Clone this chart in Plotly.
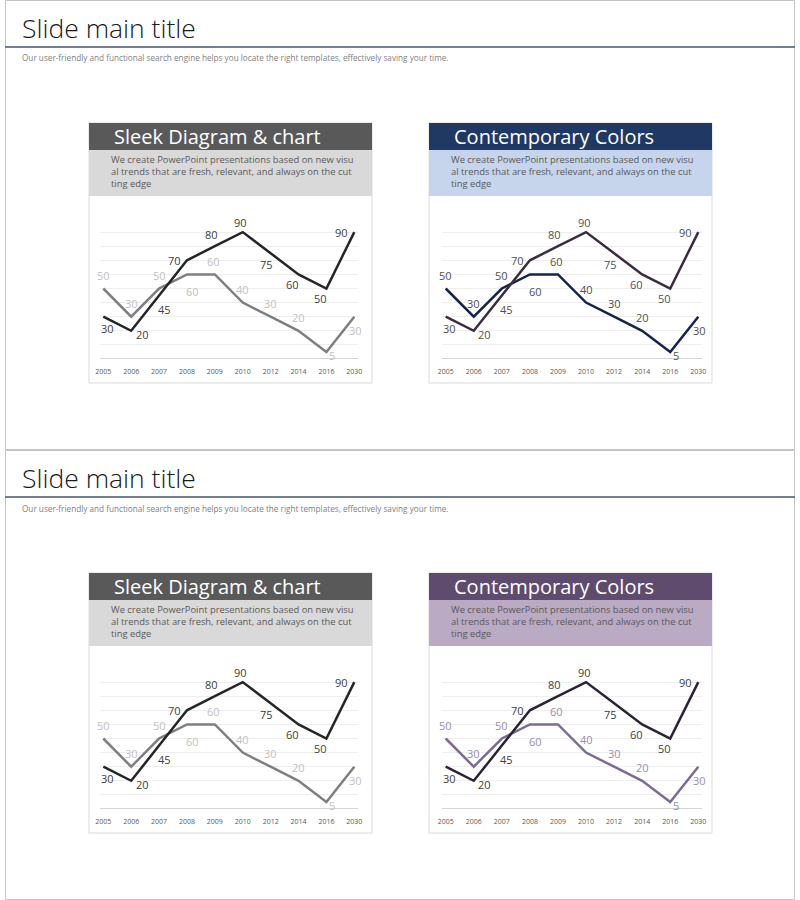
import plotly.graph_objects as go

# ---------------- data ----------------
years = ["2005", "2006", "2007", "2008", "2009", "2010", "2012", "2014", "2016", "2030"]
series_a = [30, 20, 45, 70, 80, 90, 75, 60, 50, 90]
series_b = [50, 30, 50, 60, 60, 40, 30, 20, 5, 30]
slide_title = "Slide main title"
slide_sub = ("Our user-friendly and functional search engine helps you locate the right "
             "templates, effectively saving your time.")
card_titles = ["Sleek Diagram & chart", "Contemporary Colors"]
card_desc = ("We create PowerPoint presentations based on new visu<br>"
             "al trends that are fresh, relevant, and always on the cut<br>"
             "ting edge")

# ---------------- styles ----------------
# label offsets in screen px (dx right, dy down)
off_a = [(4, 12), (11, 4), (5, 14), (-12, 0), (-3, -12), (-2, -10), (-4, 11), (-6, 10), (-6, 10), (-13, 0)]
off_b = [(0, -13), (0, -13), (0, -13), (6, 17), (-1, -13), (0, -13), (0, -13), (0, -13), (6, 4), (1, 14)]

W, H = 800, 900
XOFF, XS = 5.0, 0.9875   # compensation for the horizontal mapping of the photographer
def PX(x): return ((x - XOFF) / XS) / W
def PY(y): return 1 - y / H

cards = [
    dict(x0=89, y0=123, p0=103.3, p9=354.3, header="#595959", band="#D9D9D9", title=card_titles[0],
         ca="#262626", cb="#7F7F7F", la="#404040", lb="#BFBFBF"),
    dict(x0=429, y0=123, p0=445.7, p9=698.3, header="#1F3864", band="#C6D5EC", title=card_titles[1],
         ca="#3B2D3F", cb="#13254A", la="#505050", lb="#505050"),
    dict(x0=89, y0=573, p0=103.3, p9=354.3, header="#595959", band="#D9D9D9", title=card_titles[0],
         ca="#262626", cb="#7F7F7F", la="#404040", lb="#BFBFBF"),
    dict(x0=429, y0=573, p0=445.7, p9=698.3, header="#5E4B6E", band="#BAAAC4", title=card_titles[1],
         ca="#2B2234", cb="#7E6B91", la="#404040", lb="#9C8DAA"),
]

FONT = "Open Sans"
idx = list(range(len(years)))
fig = go.Figure()
shapes = []
annotations = []
layout = {}

# slides
for s in range(2):
    oy = 450 * s
    shapes.append(dict(type="rect", xref="paper", yref="paper",
                       x0=0.5 / W, x1=1 - 0.5 / W, y0=PY(oy + 0.5), y1=PY(oy + 449.5),
                       line=dict(color="#C4C4C4", width=1), fillcolor="white", layer="below"))
    shapes.append(dict(type="line", xref="paper", yref="paper",
                       x0=0, x1=1, y0=PY(oy + 47), y1=PY(oy + 47),
                       line=dict(color="#44546A", width=1.5)))
    annotations.append(dict(xref="paper", yref="paper", x=PX(20), y=PY(oy + 28), text=slide_title,
                            showarrow=False, xanchor="left", yanchor="middle",
                            font=dict(family=FONT, size=26.5, color="#1A1A1A", weight=300)))
    annotations.append(dict(xref="paper", yref="paper", x=PX(20), y=PY(oy + 58), text=slide_sub,
                            showarrow=False, xanchor="left", yanchor="middle",
                            font=dict(family=FONT, size=8.2, color="#7F7F7F")))

for i, c in enumerate(cards):
    x0, y0 = c["x0"], c["y0"]
    x1 = x0 + 283
    shapes.append(dict(type="rect", xref="paper", yref="paper",
                       x0=PX(x0), x1=PX(x1), y0=PY(y0), y1=PY(y0 + 260),
                       line=dict(color="#DADADA", width=1), fillcolor="white", layer="below"))
    shapes.append(dict(type="rect", xref="paper", yref="paper",
                       x0=PX(x0), x1=PX(x1), y0=PY(y0), y1=PY(y0 + 27),
                       line=dict(width=0), fillcolor=c["header"], layer="below"))
    shapes.append(dict(type="rect", xref="paper", yref="paper",
                       x0=PX(x0), x1=PX(x1), y0=PY(y0 + 27), y1=PY(y0 + 73),
                       line=dict(width=0), fillcolor=c["band"], layer="below"))
    annotations.append(dict(xref="paper", yref="paper", x=PX(x0 + 23), y=PY(y0 + 13.5), text=c["title"],
                            showarrow=False, xanchor="left", yanchor="middle",
                            font=dict(family=FONT, size=20, color="white")))
    annotations.append(dict(xref="paper", yref="paper", x=PX(x0 + 20), y=PY(y0 + 48.5), text=card_desc,
                            showarrow=False, xanchor="left", yanchor="middle", align="left",
                            font=dict(family=FONT, size=9.4, color="#595959")))

    n = i + 1
    xa = "x" if n == 1 else f"x{n}"
    ya = "y" if n == 1 else f"y{n}"
    u = (c["p9"] - c["p0"]) / 9
    xdom = [PX(c["p0"] - 0.12 * u), PX(c["p9"] + 0.12 * u)]
    uy = (236 - 95) / 100
    ydom = [PY(y0 + 236 + 0.3 * uy), PY(y0 + 95 - 0.3 * uy)]
    layout["xaxis" if n == 1 else f"xaxis{n}"] = dict(
        domain=xdom, anchor=ya, range=[-0.12, 9.12],
        tickmode="array", tickvals=idx, ticktext=years,
        showgrid=False, zeroline=False, showline=False,
        ticks="outside", ticklen=5, tickcolor="rgba(0,0,0,0)",
        tickfont=dict(family=FONT, size=7, color="#595959"), fixedrange=True)
    layout["yaxis" if n == 1 else f"yaxis{n}"] = dict(
        domain=ydom, anchor=xa, range=[-0.3, 100.3], dtick=10, tick0=0,
        showgrid=True, gridcolor="#EEEEEE", gridwidth=1,
        zeroline=True, zerolinecolor="#D4D4D4", zerolinewidth=1,
        showticklabels=False, showline=False, fixedrange=True)

    fig.add_trace(go.Scatter(x=idx, y=series_b, mode="lines", xaxis=xa, yaxis=ya,
                             line=dict(color=c["cb"], width=2.5), cliponaxis=False,
                             hoverinfo="skip", showlegend=False))
    fig.add_trace(go.Scatter(x=idx, y=series_a, mode="lines", xaxis=xa, yaxis=ya,
                             line=dict(color=c["ca"], width=2.5), cliponaxis=False,
                             hoverinfo="skip", showlegend=False))
    for k in idx:
        dx, dy = off_a[k]
        annotations.append(dict(xref=xa, yref=ya, x=k, y=series_a[k], text=str(series_a[k]),
                                showarrow=False, xshift=dx, yshift=-dy,
                                font=dict(family=FONT, size=11, color=c["la"])))
        dx, dy = off_b[k]
        annotations.append(dict(xref=xa, yref=ya, x=k, y=series_b[k], text=str(series_b[k]),
                                showarrow=False, xshift=dx, yshift=-dy,
                                font=dict(family=FONT, size=11, color=c["lb"])))

fig.update_layout(width=W, height=H, autosize=False, margin=dict(l=0, r=0, t=0, b=0, pad=0),
                  paper_bgcolor="white", plot_bgcolor="rgba(0,0,0,0)",
                  shapes=shapes, annotations=annotations, **layout)
fig.write_html("out.html",
               config={"responsive": False, "displayModeBar": False, "staticPlot": True},
               post_script=("document.documentElement.style.overflow='hidden';"
                            "document.body.style.margin='0px';document.body.style.overflow='hidden';"))
